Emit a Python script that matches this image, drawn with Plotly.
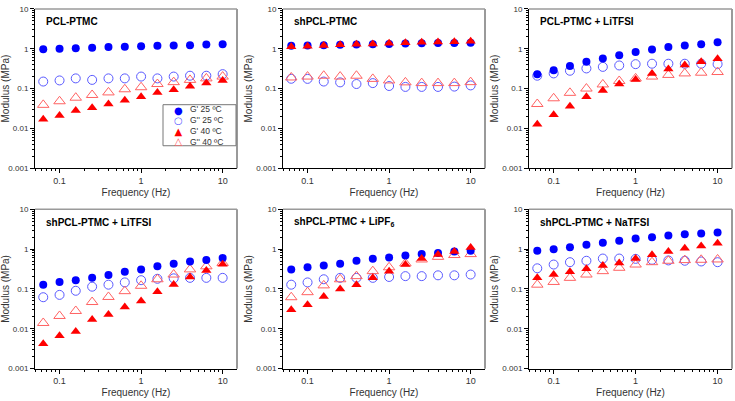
import plotly.graph_objects as go

freq = [0.0631, 0.1, 0.158, 0.251, 0.398, 0.631, 1.0, 1.585, 2.51, 3.98, 6.31, 10.0]

titles = ["PCL-PTMC", "shPCL-PTMC", "PCL-PTMC + LiTFSI",
          "shPCL-PTMC + LiTFSI", "shPCL-PTMC + LiPF<sub>6</sub>", "shPCL-PTMC + NaTFSI"]

# G' 25 °C
g1_25 = [
    [0.97, 1.0, 1.03, 1.06, 1.1, 1.12, 1.15, 1.18, 1.2, 1.23, 1.27, 1.3],
    [1.18, 1.2, 1.22, 1.25, 1.28, 1.3, 1.32, 1.35, 1.37, 1.4, 1.4, 1.42],
    [0.23, 0.29, 0.37, 0.47, 0.57, 0.69, 0.83, 0.95, 1.1, 1.2, 1.3, 1.45],
    [0.128, 0.15, 0.166, 0.19, 0.225, 0.27, 0.31, 0.37, 0.43, 0.49, 0.53, 0.6],
    [0.31, 0.35, 0.39, 0.43, 0.51, 0.57, 0.62, 0.69, 0.75, 0.8, 0.87, 0.91],
    [0.91, 1.0, 1.12, 1.28, 1.45, 1.63, 1.86, 2.0, 2.2, 2.35, 2.45, 2.6],
]
# G'' 25 °C
g2_25 = [
    [0.15, 0.16, 0.18, 0.165, 0.18, 0.18, 0.2, 0.18, 0.2, 0.21, 0.21, 0.23],
    [0.176, 0.175, 0.15, 0.143, 0.13, 0.137, 0.116, 0.11, 0.11, 0.11, 0.112, 0.12],
    [0.21, 0.24, 0.28, 0.32, 0.35, 0.38, 0.41, 0.42, 0.42, 0.42, 0.42, 0.41],
    [0.062, 0.071, 0.09, 0.114, 0.128, 0.146, 0.166, 0.18, 0.185, 0.19, 0.19, 0.19],
    [0.128, 0.146, 0.175, 0.19, 0.19, 0.19, 0.2, 0.21, 0.21, 0.22, 0.22, 0.23],
    [0.33, 0.41, 0.47, 0.51, 0.58, 0.58, 0.57, 0.54, 0.52, 0.51, 0.49, 0.47],
]
# G' 40 °C
g1_40 = [
    [0.017, 0.021, 0.028, 0.033, 0.041, 0.051, 0.062, 0.08, 0.094, 0.115, 0.137, 0.16],
    [1.12, 1.15, 1.2, 1.25, 1.3, 1.32, 1.38, 1.42, 1.45, 1.48, 1.5, 1.55],
    [0.0128, 0.022, 0.036, 0.062, 0.09, 0.13, 0.17, 0.24, 0.31, 0.39, 0.47, 0.56],
    [0.0042, 0.0067, 0.0086, 0.017, 0.023, 0.035, 0.05, 0.085, 0.13, 0.2, 0.29, 0.42],
    [0.03, 0.04, 0.065, 0.1, 0.128, 0.19, 0.28, 0.41, 0.58, 0.73, 0.87, 1.1],
    [0.19, 0.23, 0.27, 0.32, 0.39, 0.45, 0.58, 0.72, 0.87, 1.05, 1.2, 1.4],
]
# G'' 40 °C
g2_40 = [
    [0.039, 0.048, 0.059, 0.069, 0.08, 0.096, 0.108, 0.13, 0.145, 0.165, 0.18, 0.2],
    [0.19, 0.2, 0.21, 0.2, 0.21, 0.175, 0.16, 0.143, 0.137, 0.137, 0.137, 0.145],
    [0.041, 0.057, 0.078, 0.1, 0.127, 0.155, 0.18, 0.2, 0.22, 0.24, 0.25, 0.26],
    [0.014, 0.021, 0.028, 0.047, 0.063, 0.088, 0.12, 0.175, 0.23, 0.31, 0.37, 0.45],
    [0.062, 0.083, 0.123, 0.175, 0.21, 0.28, 0.35, 0.44, 0.55, 0.64, 0.71, 0.75],
    [0.128, 0.15, 0.19, 0.23, 0.28, 0.34, 0.41, 0.47, 0.51, 0.53, 0.54, 0.55],
]

series_names = ["G' 25 \u00baC", "G'' 25 \u00baC", "G' 40 \u00baC", "G'' 40 \u00baC"]
y_ticks = [0.001, 0.01, 0.1, 1, 10]
y_ticktext = ["0.001", "0.01", "0.1", "1", "10"]
x_ticks = [0.1, 1, 10]
x_ticktext = ["0.1", "1", "10"]

W, H = 735, 401
col_px = [(35, 237), (283, 485), (529, 732)]
row_px = [(5, 168), (210, 373)]

BLUE = "#0000ff"
BLUE_O = "#5a5aff"
RED = "#ff0000"
RED_O = "#ff6262"

fig = go.Figure()
font = "Liberation Sans, Arial, sans-serif"

for i in range(6):
    r, c = divmod(i, 3)
    xa = "x" if i == 0 else f"x{i+1}"
    ya = "y" if i == 0 else f"y{i+1}"
    styles = [
        (g1_25[i], dict(symbol="circle", size=8, color=BLUE, line=dict(width=0))),
        (g2_25[i], dict(symbol="circle-open", size=9, color=BLUE_O, line=dict(width=1))),
        (g1_40[i], dict(symbol="triangle-up", size=9, color=RED, line=dict(width=0))),
        (g2_40[i], dict(symbol="triangle-up-open", size=10, color=RED_O, line=dict(width=1))),
    ]
    for k in [1, 3, 0, 2]:
        vals, mk = styles[k]
        fig.add_trace(go.Scatter(x=freq, y=vals, mode="markers", marker=mk,
                                 name=series_names[k], showlegend=False,
                                 xaxis=xa, yaxis=ya))
    x0, x1 = col_px[c]
    y0, y1 = row_px[r]
    xd = [x0 / W, x1 / W]
    yd = [1 - y1 / H, 1 - y0 / H]
    axkey_x = "xaxis" if i == 0 else f"xaxis{i+1}"
    axkey_y = "yaxis" if i == 0 else f"yaxis{i+1}"
    fig.layout[axkey_x] = dict(
        type="log", domain=xd, range=[-1.301, 1.176], anchor=ya,
        tickvals=x_ticks, ticktext=x_ticktext, ticks="outside", ticklen=4,
        tickcolor="#000", showline=True, linecolor="#000", linewidth=1,
        showgrid=False, zeroline=False,
        minor=dict(ticks="outside", ticklen=2, tickcolor="#000", dtick="D1", showgrid=False),
        tickfont=dict(family=font, size=9, color="#333"),
        title=dict(text="Frequency (Hz)", font=dict(family=font, size=10, color="#333"), standoff=3),
    )
    fig.layout[axkey_y] = dict(
        type="log", domain=yd, range=[-3, 1], anchor=xa,
        tickvals=y_ticks, ticktext=y_ticktext, ticks="outside", ticklen=4,
        tickcolor="#000", showline=True, linecolor="#000", linewidth=1,
        showgrid=False, zeroline=False,
        minor=dict(ticks="outside", ticklen=2, tickcolor="#000", dtick="D1", showgrid=False),
        tickfont=dict(family=font, size=8, color="#333"),
        title=dict(text="Modulus (MPa)", font=dict(family=font, size=10, color="#333"), standoff=1),
    )
    # gray frame on top/right
    fig.add_shape(type="line", xref=f"{xa} domain", yref=f"{ya} domain",
                  x0=0, x1=1, y0=1, y1=1, line=dict(color="#9a9a9a", width=1.5))
    fig.add_shape(type="line", xref=f"{xa} domain", yref=f"{ya} domain",
                  x0=1, x1=1, y0=0, y1=1, line=dict(color="#9a9a9a", width=2))
    fig.add_annotation(text=f"<b>{titles[i]}</b>", xref=f"{xa} domain", yref=f"{ya} domain",
                       x=0.045, y=0.92, xanchor="left", yanchor="middle", showarrow=False,
                       font=dict(family=font, size=10, color="#000"))

# legend box (panel 1)
lx0, lx1, ly0, ly1 = 163, 236, 103, 145
fig.add_shape(type="rect", xref="paper", yref="paper",
              x0=lx0 / W, x1=lx1 / W, y0=1 - ly1 / H, y1=1 - ly0 / H,
              line=dict(color="#777", width=1), fillcolor="white")
glyphs = ["\u25cf", "\u25cb", "\u25b2", "\u25b3"]
gcol = [BLUE, BLUE_O, RED, RED_O]
glyph_text = "<br>".join(
    f"<span style='color:{gcol[k]};font-size:10px'>{glyphs[k]}</span>" for k in range(4))
label_text = "<br>".join(series_names)
legend_mid = 1 - 124.5 / H
fig.add_annotation(text=glyph_text, xref="paper", yref="paper",
                   x=178 / W, y=legend_mid, xanchor="center", yanchor="middle",
                   showarrow=False, borderpad=0,
                   font=dict(family="DejaVu Sans", size=8, color=BLUE))
fig.add_annotation(text=label_text, xref="paper", yref="paper",
                   x=189 / W, y=legend_mid, xanchor="left", yanchor="middle", align="left",
                   showarrow=False, borderpad=0,
                   font=dict(family=font, size=8.5, color="#333"))

fig.update_layout(width=W, height=H, margin=dict(l=0, r=0, t=0, b=0),
                  paper_bgcolor="white", plot_bgcolor="white", showlegend=False)
fig.write_html("out.html", config={"displayModeBar": False},
               post_script="document.body.style.margin='0';document.body.style.padding='0';")
